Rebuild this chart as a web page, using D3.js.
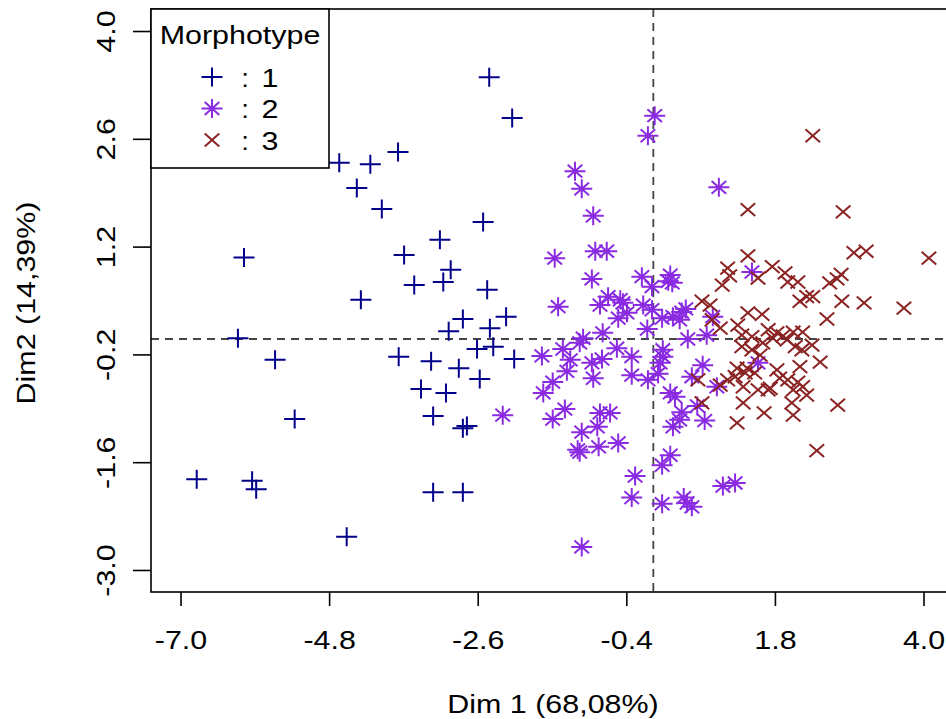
<!DOCTYPE html>
<html><head><meta charset="utf-8">
<script src="https://cdn.jsdelivr.net/npm/d3@7"></script>
<style>body{margin:0;background:#fff}svg{display:block}text{font-family:"Liberation Sans",Arial,Helvetica,sans-serif;font-size:26px;fill:#000}</style>
</head><body>
<svg id="chart" width="946" height="719"></svg>
<script>
const xTicks = [-7.0, -4.8, -2.6, -0.4, 1.8, 4.0];
const yTicks = [-3.0, -1.6, -0.2, 1.2, 2.6, 4.0];
const xTitle = "Dim 1 (68,08%)";
const yTitle = "Dim2 (14,39%)";
const legendTitle = "Morphotype";
const categories = ["1", "2", "3"];
const colors = ["#00008B", "#8A2BE2", "#8B2323"];

// Morphotype 1 (Dim1, Dim2)
const morph1 = [
[-2.43,3.40],[-2.09,2.87],[-4.65,2.29],[-4.19,2.27],[-3.78,2.43],[-4.39,1.96],[-4.02,1.69],
[-2.52,1.52],[-3.16,1.29],[-6.06,1.06],[-3.69,1.09],[-3.00,0.90],[-3.11,0.74],[-3.54,0.70],
[-2.46,0.64],[-4.33,0.51],[-2.82,0.26],[-2.18,0.29],[-3.03,0.10],[-2.42,0.14],[-6.15,0.01],
[-2.37,-0.10],[-2.61,-0.13],[-5.60,-0.27],[-3.77,-0.23],[-3.29,-0.29],[-2.88,-0.38],[-2.06,-0.26],
[-2.57,-0.52],[-3.44,-0.65],[-3.07,-0.70],[-5.31,-1.04],[-3.26,-1.00],[-2.82,-1.16],[-2.76,-1.13],
[-6.76,-1.82],[-5.94,-1.84],[-5.88,-1.95],[-3.26,-1.99],[-2.82,-1.99],[-4.54,-2.57]
];
// Morphotype 2
const morph2 = [
[0.02,2.90],[-0.08,2.64],[-1.16,2.18],[-1.06,1.95],[-0.89,1.60],[0.97,1.97],[-0.86,1.14],
[-0.69,1.14],[-1.46,1.05],[-0.91,0.78],[-0.17,0.81],[0.25,0.83],[0.28,0.73],[1.46,0.87],
[-1.41,0.42],[-0.79,0.44],[-0.67,0.55],[-0.45,0.47],[-0.15,0.44],[-0.39,0.34],[-0.52,0.27],
[-0.02,0.68],[-0.02,0.38],[0.42,0.35],[0.48,0.39],[0.29,0.29],[0.13,0.27],[0.88,0.29],
[-0.09,0.13],[-0.75,0.08],[-1.04,0.01],[0.51,0.00],[0.79,0.05],[-1.34,-0.13],[-1.65,-0.22],
[-0.54,-0.12],[0.14,-0.14],[-0.91,-0.31],[-0.76,-0.26],[-1.23,-0.27],[-0.32,-0.23],[0.10,-0.31],
[-1.28,-0.42],[-0.89,-0.51],[-0.32,-0.47],[-0.08,-0.53],[0.07,-0.45],[0.73,-0.34],[0.57,-0.49],
[-1.49,-0.56],[-1.63,-0.70],[0.25,-0.70],[0.32,-0.75],[0.94,-0.62],[1.55,-0.31],[0.65,-0.87],
[-2.23,-0.99],[-1.31,-0.91],[-1.49,-1.04],[-0.79,-0.96],[-0.64,-0.96],[0.42,-0.95],[0.39,-1.05],
[0.29,-1.14],[0.76,-1.06],[-1.06,-1.21],[-0.83,-1.14],[-1.12,-1.44],[-1.09,-1.47],[-0.81,-1.40],
[-0.52,-1.35],[0.25,-1.51],[0.13,-1.64],[-0.27,-1.78],[-0.32,-2.06],[0.13,-2.14],[0.45,-2.06],
[0.50,-2.13],[0.57,-2.18],[1.03,-1.91],[1.21,-1.87],[-1.06,-2.70],[0.22,0.75],[0.14,-0.23],
[-0.49,0.51],[0.39,0.25],[-1.09,-0.05]
];
// Morphotype 3
const morph3 = [
[2.36,2.64],[1.40,1.68],[2.81,1.65],[1.40,1.08],[2.97,1.12],[3.15,1.14],[4.08,1.05],
[1.10,0.92],[1.13,0.82],[1.76,0.94],[1.55,0.79],[1.95,0.86],[1.99,0.74],[2.14,0.74],
[2.61,0.73],[2.72,0.78],[2.78,0.84],[1.02,0.70],[2.27,0.55],[2.36,0.55],[2.79,0.49],
[3.12,0.47],[3.71,0.40],[0.72,0.49],[0.84,0.44],[0.87,0.25],[0.99,0.14],[1.40,0.34],
[1.61,0.32],[2.57,0.26],[1.31,0.05],[1.46,0.03],[1.70,0.12],[1.83,0.08],[1.77,0.01],
[2.07,0.09],[2.21,0.09],[1.98,-0.01],[2.10,-0.10],[2.35,-0.08],[2.20,-0.14],[1.31,-0.10],
[1.46,-0.14],[1.62,-0.05],[1.58,-0.21],[2.47,-0.30],[1.24,-0.38],[1.39,-0.38],[1.50,-0.44],
[1.83,-0.40],[2.17,-0.36],[1.99,-0.53],[2.14,-0.56],[2.21,-0.62],[1.21,-0.49],[1.10,-0.53],
[1.33,-0.62],[0.99,-0.60],[0.66,-0.53],[2.27,-0.73],[2.07,-0.66],[2.05,-0.83],[1.73,-0.64],
[1.55,-0.66],[2.73,-0.86],[1.64,-0.96],[2.07,-0.99],[1.33,-0.83],[0.72,-0.83],[1.24,-1.09],
[2.42,-1.45],[1.87,-0.51],[2.17,0.49],[1.25,0.18],[1.92,0.04],[1.36,-0.44],[1.70,-0.66]
];

const svg = d3.select("#chart");
const L = 151, R = 960, T = 9, B = 592;
const x = d3.scaleLinear().domain([-7.437, 4.54]).range([L, R]);
const y = d3.scaleLinear().domain([-3.286, 4.286]).range([B, T]);
const K = 1.17;
function stretch(sel){ sel.each(function(){ const w=this.getComputedTextLength(); d3.select(this).attr("textLength", w*K).attr("lengthAdjust","spacingAndGlyphs"); }); }

// symbol paths
function plusPath(cx, cy){ const rx=10.5, ry=9.5; return `M${cx-rx},${cy}H${cx+rx}M${cx},${cy-ry}V${cy+ry}`; }
function crossPath(cx, cy){ const rx=7.3, ry=6.4; return `M${cx-rx},${cy-ry}L${cx+rx},${cy+ry}M${cx-rx},${cy+ry}L${cx+rx},${cy-ry}`; }
function astPath(cx, cy){ return plusPath(cx,cy)+crossPath(cx,cy); }
const shapes = [plusPath, astPath, crossPath];

svg.append("clipPath").attr("id","clip").append("rect").attr("x",L).attr("y",T).attr("width",R-L).attr("height",B-T);

// dashed reference lines
svg.append("line").attr("x1",x(0)).attr("x2",x(0)).attr("y1",T).attr("y2",B)
  .attr("stroke","#444").attr("stroke-width",1.8).attr("stroke-dasharray","8,6");
svg.append("line").attr("x1",L).attr("x2",R).attr("y1",y(0)).attr("y2",y(0))
  .attr("stroke","#444").attr("stroke-width",1.8).attr("stroke-dasharray","8,6");

// points
const pts = svg.append("g").attr("clip-path","url(#clip)");
[morph1, morph2, morph3].forEach((data, i) => {
  pts.append("g").selectAll("path").data(data).join("path")
    .attr("d", d => shapes[i](x(d[0]), y(d[1])))
    .attr("fill","none").attr("stroke", colors[i]).attr("stroke-width", 2);
});

// box
svg.append("rect").attr("x",L).attr("y",T).attr("width",R-L).attr("height",B-T)
  .attr("fill","none").attr("stroke","#000").attr("stroke-width",1.6);

// axes
const gx = svg.append("g").attr("transform",`translate(0,${B})`)
  .call(d3.axisBottom(x).tickValues(xTicks).tickFormat(d=>d.toFixed(1)).tickSize(14).tickSizeOuter(0));
gx.select(".domain").remove();
gx.selectAll(".tick line").attr("stroke","#000").attr("stroke-width",1.6);
gx.selectAll(".tick text").attr("y",57).attr("dy",null).attr("font-size",26).attr("font-family",null).attr("fill","#000").call(stretch);

const gy = svg.append("g").attr("transform",`translate(${L},0)`)
  .call(d3.axisLeft(y).tickValues(yTicks).tickFormat(d=>d.toFixed(1)).tickSize(18).tickSizeOuter(0));
gy.select(".domain").remove();
gy.selectAll(".tick line").attr("stroke","#000").attr("stroke-width",1.6);
gy.selectAll(".tick text").attr("x",0).attr("y",0).attr("dy",null).attr("text-anchor","middle")
  .attr("transform","translate(-36,0) rotate(-90)").attr("font-size",26).attr("font-family",null).attr("fill","#000").call(stretch);

// axis titles
svg.append("text").attr("x",553).attr("y",713).attr("text-anchor","middle").text(xTitle).call(stretch);
svg.append("text").attr("transform","translate(35,303) rotate(-90)").attr("text-anchor","middle").text(yTitle).call(stretch);

// legend
const lg = svg.append("g");
lg.append("rect").attr("x",L).attr("y",T).attr("width",178).attr("height",159)
  .attr("fill","#fff").attr("stroke","#000").attr("stroke-width",1.6);
lg.append("text").attr("x",240).attr("y",44).attr("text-anchor","middle").text(legendTitle).call(stretch);
categories.forEach((c, i) => {
  const cy = 77 + i*31.5;
  lg.append("path").attr("d", shapes[i](212, cy)).attr("fill","none").attr("stroke",colors[i]).attr("stroke-width",2);
  lg.append("text").attr("x",245).attr("y",cy+9.5).attr("text-anchor","middle").text(":");
  lg.append("text").attr("x",270).attr("y",cy+9.5).attr("text-anchor","middle").text(c).call(stretch);
});
</script>
</body></html>
